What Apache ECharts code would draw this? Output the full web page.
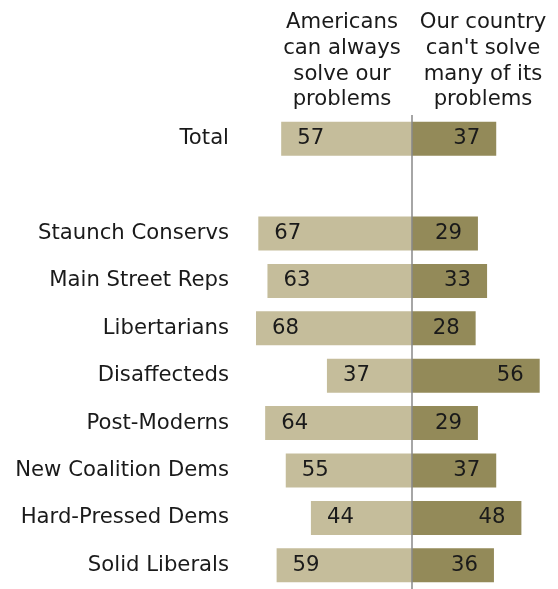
<!DOCTYPE html>
<html>
<head>
<meta charset="utf-8">
<script src="https://cdn.jsdelivr.net/npm/echarts@6/dist/echarts.min.js"></script>
<style>html,body{margin:0;padding:0;background:#fff;}#c{width:558px;height:589px;}</style>
</head>
<body>
<div id="c"></div>
<script>
const categories = ['Total', '', 'Staunch Conservs', 'Main Street Reps', 'Libertarians', 'Disaffecteds', 'Post-Moderns', 'New Coalition Dems', 'Hard-Pressed Dems', 'Solid Liberals'];
const canSolve = [57, null, 67, 63, 68, 37, 64, 55, 44, 59];
const cantSolve = [37, null, 29, 33, 28, 56, 29, 37, 48, 36];
const headerLeft = ['Americans', 'can always', 'solve our', 'problems'];
const headerRight = ['Our country', "can't solve", 'many of its', 'problems'];

const FONT = '"DejaVu Sans", Verdana, sans-serif';
const FS = 21.2;
const chart = echarts.init(document.getElementById('c'), null, {renderer: 'canvas'});
chart.setOption({
  animation: false,
  backgroundColor: '#fff',
  grid: {left: 240, right: 0, top: 115, height: 478, containLabel: false},
  xAxis: {
    type: 'value', min: -75, max: 64,
    show: false
  },
  yAxis: {
    type: 'category', inverse: true, data: categories,
    axisLine: {show: false}, axisTick: {show: false}, splitLine: {show: false},
    axisLabel: {fontFamily: FONT, fontSize: FS, color: '#1a1a1a', margin: 11}
  },
  graphic: [
    {type: 'text', x: 342, y: 10, style: {text: headerLeft.join('\n'), font: FS + 'px ' + FONT, fill: '#1a1a1a', align: 'center', verticalAlign: 'top', lineHeight: 25.7}},
    {type: 'text', x: 483, y: 10, style: {text: headerRight.join('\n'), font: FS + 'px ' + FONT, fill: '#1a1a1a', align: 'center', verticalAlign: 'top', lineHeight: 25.7}}
  ],
  series: [
    {
      type: 'bar', stack: 's', barWidth: 34,
      data: canSolve.map(v => v == null ? null : -v),
      itemStyle: {color: '#c5bd9b'},
      label: {show: true, position: 'insideLeft', distance: 16, fontFamily: FONT, fontSize: FS, color: '#1a1a1a',
        formatter: p => Math.abs(p.value)},
      markLine: {
        silent: true, symbol: 'none', label: {show: false},
        lineStyle: {color: '#888', width: 1.5, type: 'solid'},
        data: [{xAxis: 0}]
      }
    },
    {
      type: 'bar', stack: 's', barWidth: 34,
      data: cantSolve,
      itemStyle: {color: '#938a59'},
      label: {show: true, position: 'insideRight', distance: 16, fontFamily: FONT, fontSize: FS, color: '#1a1a1a'}
    }
  ]
});
</script>
</body>
</html>
